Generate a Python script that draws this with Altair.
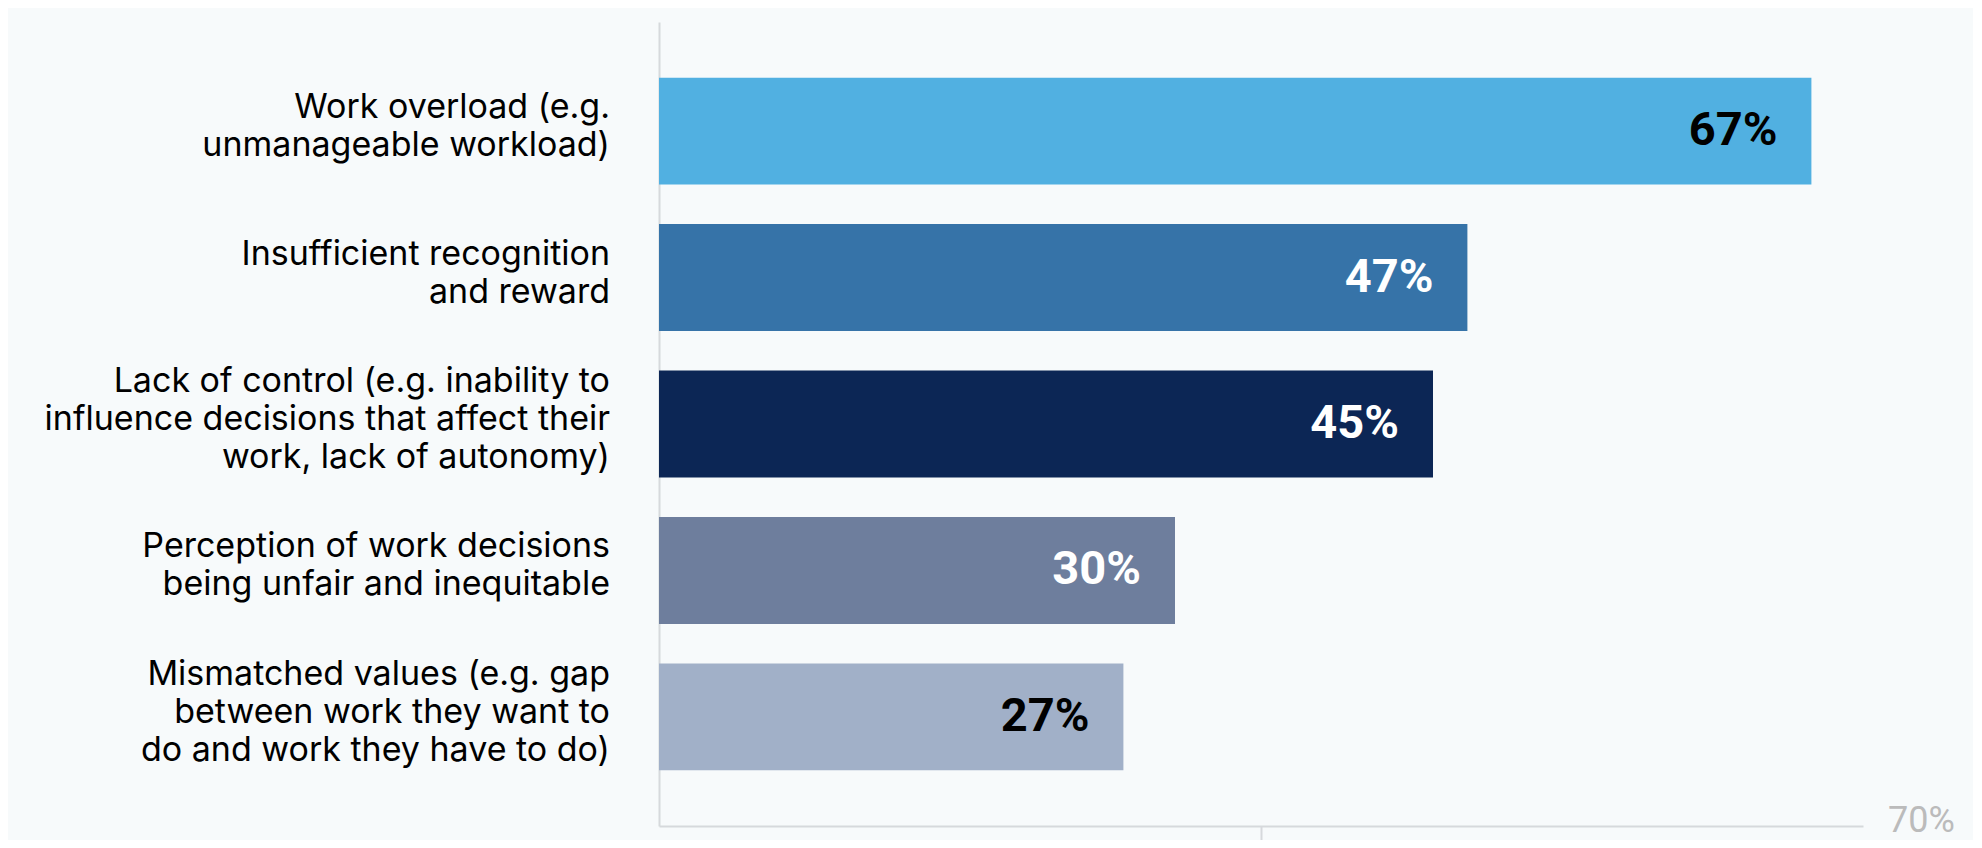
import altair as alt
import pandas as pd

categories = [
    "Work overload (e.g.\nunmanageable workload)",
    "Insufficient recognition\nand reward",
    "Lack of control (e.g. inability to\ninfluence decisions that affect their\nwork, lack of autonomy)",
    "Perception of work decisions\nbeing unfair and inequitable",
    "Mismatched values (e.g. gap\nbetween work they want to\ndo and work they have to do)",
]
values = [67, 47, 45, 30, 27]
value_labels = ["67%", "47%", "45%", "30%", "27%"]
bar_colors = ["#51B0E1", "#3673A8", "#0C2655", "#6E7E9D", "#A1B0C8"]
label_colors = ["#000000", "#FFFFFF", "#FFFFFF", "#FFFFFF", "#000000"]
axis_max = 70
axis_max_label = "70%"

df = pd.DataFrame({
    "cat": categories,
    "value": values,
    "label": value_labels,
    "lcolor": label_colors,
})

# one row per line of each category label
rows = []
for c in categories:
    parts = c.split("\n")
    n = len(parts)
    for i, p in enumerate(parts):
        rows.append({"cat": c, "line": p, "off": i - (n - 1) / 2})
lines_df = pd.DataFrame(rows)

W, H = 1204, 804
LH = 38

y_enc = alt.Y(
    "cat:N",
    sort=categories,
    scale=alt.Scale(paddingInner=0.27, paddingOuter=0.38),
    axis=alt.Axis(
        title=None,
        ticks=False,
        labels=False,
        domain=True,
        domainColor="#D6D9DC",
        domainWidth=2,
    ),
)

x_enc = alt.X(
    "value:Q",
    scale=alt.Scale(domain=[0, axis_max], nice=False, zero=True),
    axis=alt.Axis(
        title=None,
        values=[35],
        labels=False,
        grid=False,
        domainColor="#D6D9DC",
        domainWidth=2,
        tickColor="#D6D9DC",
        tickWidth=2,
        tickSize=30,
    ),
)

bars = alt.Chart(df).mark_bar().encode(
    x=x_enc,
    y=y_enc,
    color=alt.Color("cat:N", scale=alt.Scale(domain=categories, range=bar_colors), legend=None),
)

texts = alt.Chart(df).mark_text(
    align="right", baseline="middle", dx=-34, font="Roboto", fontSize=47, fontWeight="bold"
).encode(
    x="value:Q",
    y=alt.Y("cat:N", sort=categories),
    text="label:N",
    color=alt.Color("lcolor:N", scale=None),
)

label_layers = []
for off in sorted(lines_df["off"].unique()):
    label_layers.append(
        alt.Chart(lines_df).transform_filter(
            alt.datum.off == float(off)
        ).mark_text(
            align="right", baseline="middle", dx=-49, dy=float(off) * LH - 4,
            font="Inter", fontSize=34, color="#000000",
        ).encode(
            x=alt.datum(0),
            y=alt.Y("cat:N", sort=categories),
            text="line:N",
        )
    )

end_df = pd.DataFrame({"v": [axis_max], "t": [axis_max_label]})
end_label = alt.Chart(end_df).mark_text(
    align="left", baseline="middle", dx=25, dy=-5, font="Roboto", fontSize=36, color="#BBBBBB"
).encode(
    x="v:Q",
    y=alt.value(H),
    text="t:N",
)

chart = alt.layer(bars, texts, *label_layers, end_label).properties(
    width=W,
    height=H,
    background="#F7FAFB",
    autosize=alt.AutoSizeParams(type="none"),
    padding={"left": 651, "top": 14, "right": 110, "bottom": 14},
).configure_view(stroke=None)

chart.save("out.html", embed_options={"renderer": "svg", "actions": False})
